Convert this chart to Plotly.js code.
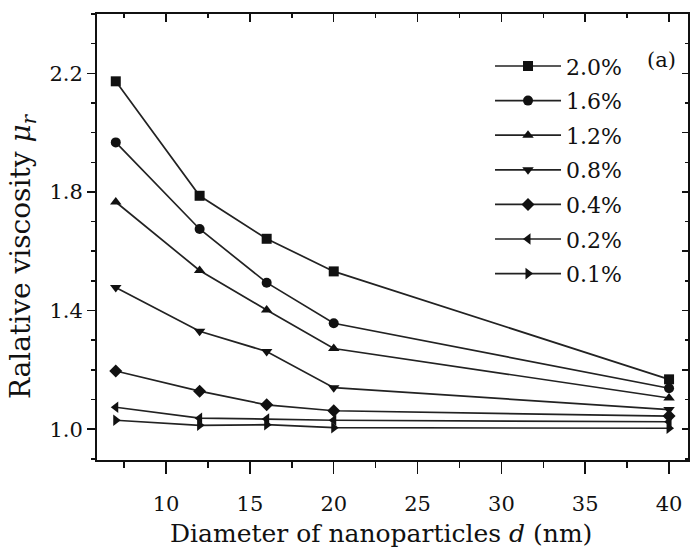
<!DOCTYPE html>
<html>
<head>
<meta charset="utf-8">
<script src="https://cdn.plot.ly/plotly-3.0.1.min.js"></script>
<style>
  html, body { margin: 0; padding: 0; background: #fff; }
  #chart { width: 690px; height: 549px; }
</style>
</head>
<body>
<div id="chart"></div>
<script>
// Particle diameters (nm)
const diameters = [7, 12, 16, 20, 40];

// Relative viscosity for each volume concentration
const conc20 = [2.173, 1.787, 1.642, 1.532, 1.168];
const conc16 = [1.967, 1.675, 1.494, 1.357, 1.138];
const conc12 = [1.766, 1.535, 1.402, 1.272, 1.105];
const conc08 = [1.478, 1.330, 1.262, 1.140, 1.066];
const conc04 = [1.196, 1.128, 1.082, 1.062, 1.044];
const conc02 = [1.074, 1.037, 1.034, 1.030, 1.025];
const conc01 = [1.030, 1.013, 1.015, 1.005, 1.003];

const seriesLabels = ['2.0%', '1.6%', '1.2%', '0.8%', '0.4%', '0.2%', '0.1%'];
const seriesValues = [conc20, conc16, conc12, conc08, conc04, conc02, conc01];
const seriesSymbols = ['square', 'circle', 'triangle-up', 'triangle-down', 'diamond', 'triangle-left', 'triangle-right'];

const xTitle = 'Diameter of nanoparticles <i>d</i> (nm)';
const yTitle = 'Ralative viscosity <i>μ</i><sub><i>r</i></sub>';

const serif = '"DejaVu Serif", "Liberation Serif", serif';
const ink = '#111';

const traces = seriesValues.map((vals, i) => ({
  x: diameters,
  y: vals,
  name: seriesLabels[i],
  legendgroup: 'g' + i,
  type: 'scatter',
  mode: 'lines+markers',
  line: { color: '#222', width: 1.7 },
  marker: { symbol: seriesSymbols[i], size: 10, color: ink }
}));

// Mirror axes on top and right with inward ticks
traces.push({ x: [diameters[0]], y: [conc01[0]], xaxis: 'x2', yaxis: 'y2',
  mode: 'markers', marker: { opacity: 0 }, showlegend: false, hoverinfo: 'skip' });

const xRange = [5.88, 41.13];
const yRange = [0.896, 2.4];

const layout = {
  width: 690,
  height: 549,
  margin: { l: 97, r: 2, t: 14, b: 89 },
  paper_bgcolor: '#fff',
  plot_bgcolor: '#fff',
  font: { family: serif, color: ink, size: 21 },
  showlegend: true,
  legend: {
    x: 0.665, y: 0.93, xanchor: 'left', yanchor: 'top',
    bgcolor: 'rgba(0,0,0,0)',
    font: { family: serif, size: 22, color: ink },
    tracegroupgap: 3,
    itemwidth: 66
  },
  xaxis: {
    range: xRange,
    showgrid: false, zeroline: false,
    showline: true, linecolor: ink, linewidth: 2,
    ticks: 'outside', ticklen: 12, tickwidth: 1.5, tickcolor: ink,
    tick0: 0, dtick: 5,
    minor: { dtick: 2.5, ticks: 'outside', ticklen: 6, tickwidth: 1.5, tickcolor: ink, showgrid: false },
    tickfont: { family: serif, size: 21, color: ink },
    ticklabelstandoff: 12
  },
  yaxis: {
    range: yRange,
    showgrid: false, zeroline: false,
    showline: true, linecolor: ink, linewidth: 2,
    ticks: 'outside', ticklen: 8, tickwidth: 1.5, tickcolor: ink,
    tick0: 1.0, dtick: 0.4, tickformat: '.1f',
    minor: { dtick: 0.1, ticks: 'outside', ticklen: 4, tickwidth: 1.5, tickcolor: ink, showgrid: false },
    tickfont: { family: serif, size: 21, color: ink }
  },
  xaxis2: {
    range: xRange, overlaying: 'x', side: 'top', anchor: 'y',
    showgrid: false, zeroline: false, showticklabels: false,
    showline: true, linecolor: ink, linewidth: 2,
    ticks: 'inside', ticklen: 8, tickwidth: 1.5, tickcolor: ink,
    tick0: 0, dtick: 5,
    minor: { dtick: 2.5, ticks: 'inside', ticklen: 4, tickwidth: 1.5, tickcolor: ink, showgrid: false }
  },
  yaxis2: {
    range: yRange, overlaying: 'y', side: 'right', anchor: 'x',
    showgrid: false, zeroline: false, showticklabels: false,
    showline: true, linecolor: ink, linewidth: 2,
    ticks: 'inside', ticklen: 6, tickwidth: 1.5, tickcolor: ink,
    tick0: 1.0, dtick: 0.2,
    minor: { dtick: 0.1, ticks: 'inside', ticklen: 3, tickwidth: 1.5, tickcolor: ink, showgrid: false }
  },
  annotations: [
    {
      text: '(a)', xref: 'paper', yref: 'paper', x: 0.955, y: 0.897,
      xanchor: 'center', yanchor: 'middle', showarrow: false,
      font: { family: serif, size: 21, color: ink }
    },
    {
      // x-axis title
      text: xTitle, xref: 'paper', yref: 'paper', x: 0.481, y: -0.164,
      xanchor: 'center', yanchor: 'middle', showarrow: false,
      font: { family: serif, size: 25, color: ink }
    },
    {
      // y-axis title
      text: yTitle, xref: 'paper', yref: 'paper', x: -0.127, y: 0.457,
      xanchor: 'center', yanchor: 'middle', showarrow: false, textangle: -90,
      font: { family: serif, size: 28, color: ink }
    }
  ]
};

Plotly.newPlot('chart', traces, layout, { displayModeBar: false, staticPlot: true });
</script>
</body>
</html>
